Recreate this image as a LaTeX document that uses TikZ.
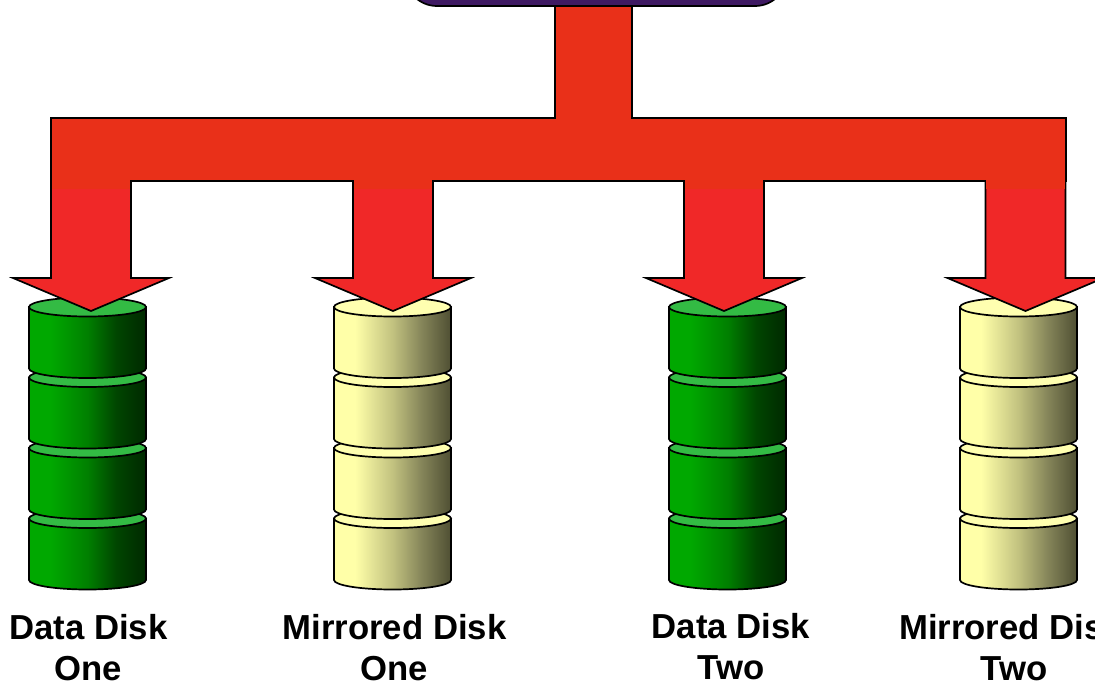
\documentclass[tikz,border=0pt]{standalone}
\usepackage{fontspec}
\setmainfont{Liberation Sans}
\definecolor{busred}{HTML}{E93019}
\definecolor{arrowred}{HTML}{F02828}
\definecolor{boxpurple}{HTML}{3F1A63}
\definecolor{greentop}{HTML}{33BB44}
\definecolor{yellowtop}{HTML}{FFFFB0}
\pgfdeclarehorizontalshading{greenbody}{100bp}{
  rgb(0bp)=(0,0.66,0);
  rgb(34bp)=(0,0.66,0);
  rgb(50bp)=(0,0.50,0);
  rgb(62.5bp)=(0,0.27,0);
  rgb(75bp)=(0,0.16,0);
  rgb(100bp)=(0,0.16,0)}
\pgfdeclarehorizontalshading{yellowbody}{100bp}{
  rgb(0bp)=(1,1,0.66);
  rgb(34bp)=(1,1,0.66);
  rgb(50bp)=(0.76,0.76,0.50);
  rgb(62.5bp)=(0.52,0.52,0.35);
  rgb(75bp)=(0.31,0.31,0.20);
  rgb(100bp)=(0.31,0.31,0.20)}
\tikzset{
  outline/.style={draw=black,line width=1.7pt,line join=miter},
  disklabel/.style={font=\fontsize{34.7}{42}\selectfont\bfseries,align=center,text=black,inner sep=0pt,anchor=base},
}
\newcommand{\diskstack}[3]{%
  \foreach \t in {518.5,448,377.5,307}{
    \path[outline,shading=#2]
      (#1-58.5,\t) -- (#1-58.5,\t+61.5)
      arc[start angle=180,end angle=360,x radius=58.5pt,y radius=9.5pt]
      -- (#1+58.5,\t) -- cycle;
    \draw[outline,fill=#3] (#1,\t) ellipse [x radius=58.5pt,y radius=9.5pt];
  }%
}
\newcommand{\bigarrow}[1]{%
  \path[outline,fill=arrowred]
    (#1-40,170) -- (#1-40,278) -- (#1-78,278) -- (#1,311)
    -- (#1+78,278) -- (#1+40,278) -- (#1+40,170) -- cycle;
}
\begin{document}
\begin{tikzpicture}[x=1pt,y=-1pt]
\useasboundingbox (0,0) rectangle (1095,686);
\clip (0,0) rectangle (1095,686);
% disks
\diskstack{87.5}{greenbody}{greentop}
\diskstack{392.5}{yellowbody}{yellowtop}
\diskstack{727.5}{greenbody}{greentop}
\diskstack{1018.5}{yellowbody}{yellowtop}
% arrows
\bigarrow{91}
\bigarrow{393}
\bigarrow{724}
\bigarrow{1025.5}
% bus and stem
\path[outline,fill=busred]
  (555,0) -- (555,118) -- (51,118) -- (51,181) -- (1066,181) -- (1066,118) -- (632,118) -- (632,0) -- cycle;
\fill[busred] (51.9,175) rectangle (130.1,188.5);
\fill[busred] (353.9,175) rectangle (432.1,188.5);
\fill[busred] (684.9,175) rectangle (763.1,188.5);
\fill[busred] (986.4,175) rectangle (1065.1,188.5);
% top box
\path[outline,fill=boxpurple,rounded corners=32pt] (405,-90) rectangle (787,6);
% labels
\node[disklabel] (l1a) at (88.5,639) {Data Disk};
\node[disklabel] (l1b) at (88,680) {One};
\node[disklabel] (l2a) at (394.5,639) {Mirrored Disk};
\node[disklabel] (l2b) at (394,680) {One};
\node[disklabel] (l3a) at (731,638) {Data Disk};
\node[disklabel] (l3b) at (731,679) {Two};
\node[disklabel] (l4a) at (1011,639) {Mirrored Disk};
\node[disklabel] (l4b) at (1014,680) {Two};
\end{tikzpicture}
\end{document}
